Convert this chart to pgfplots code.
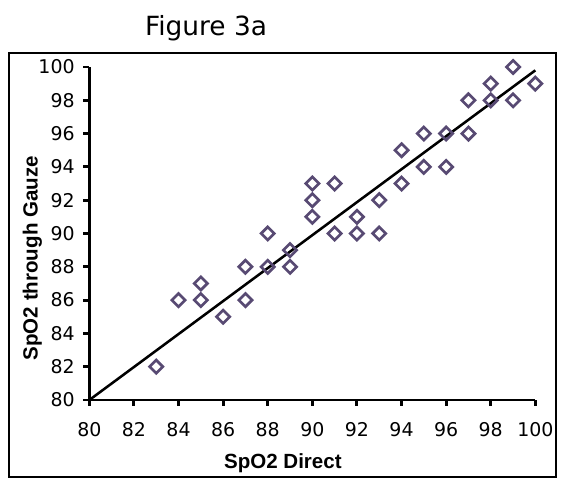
\documentclass[border=0pt]{standalone}
\usepackage{fontspec}
\setmainfont{Liberation Sans}
\newfontfamily\tickfont{DejaVu Sans}
\usepackage{pgfplots}
\pgfplotsset{compat=1.18}
\definecolor{markpurple}{RGB}{88,74,115}

\begin{document}
\begin{tikzpicture}[x=0.75pt,y=0.75pt]
% canvas in reference pixels, y up from bottom
\path (0,0) rectangle (585,481);
\draw[line width=2.2pt] (9,4) rectangle (556,428);
\node[anchor=base, inner sep=0pt, font=\tickfont\fontsize{19.8}{24}\selectfont] at (206,445) {Figure 3a};
\begin{axis}[
  at={(67pt,60.75pt)}, anchor=south west,
  scale only axis, width=334.5pt, height=249.75pt,
  xmin=80, xmax=100, ymin=80, ymax=100,
  xtick={80,82,...,100}, ytick={80,82,...,100},
  axis x line=bottom, axis y line=left,
  axis line style={-, line width=2.2pt, black},
  tick style={black, line width=2.2pt},
  tick align=outside, major tick length=4.5pt,
  /pgf/number format/assume math mode=true,
  ticklabel style={font=\tickfont\fontsize{14.2}{16}\selectfont},
  xticklabel style={yshift=-9pt},
  yticklabel style={xshift=-3pt},
  xlabel={\textbf{SpO2 Direct}},
  ylabel={\textbf{SpO2 through Gauze}},
  label style={font=\fontsize{15.4}{18}\selectfont},
  xlabel style={at={(axis description cs:0.434,-0.19)}, anchor=center},
  ylabel style={at={(axis description cs:-0.128,0.426)}, anchor=center, rotate=0},
  clip=false,
]
\addplot[black, line width=1.9pt] coordinates {(80,80) (100,99.8)};
\addplot[only marks, mark=square, mark size=3.5pt,
  mark options={rotate=45, draw=markpurple, line width=2pt, fill=white}]
  coordinates {
  (83,82) (84,86) (85,87) (85,86) (86,85) (87,88) (87,86)
  (88,90) (88,88) (89,89) (89,88) (90,93) (90,92) (90,91)
  (91,93) (91,90) (92,91) (92,90) (93,92) (93,90) (94,95)
  (94,93) (95,96) (95,94) (96,96) (96,94) (97,98) (97,96)
  (98,99) (98,98) (99,100) (99,98) (100,99)
  };
\end{axis}
\end{tikzpicture}
\end{document}
